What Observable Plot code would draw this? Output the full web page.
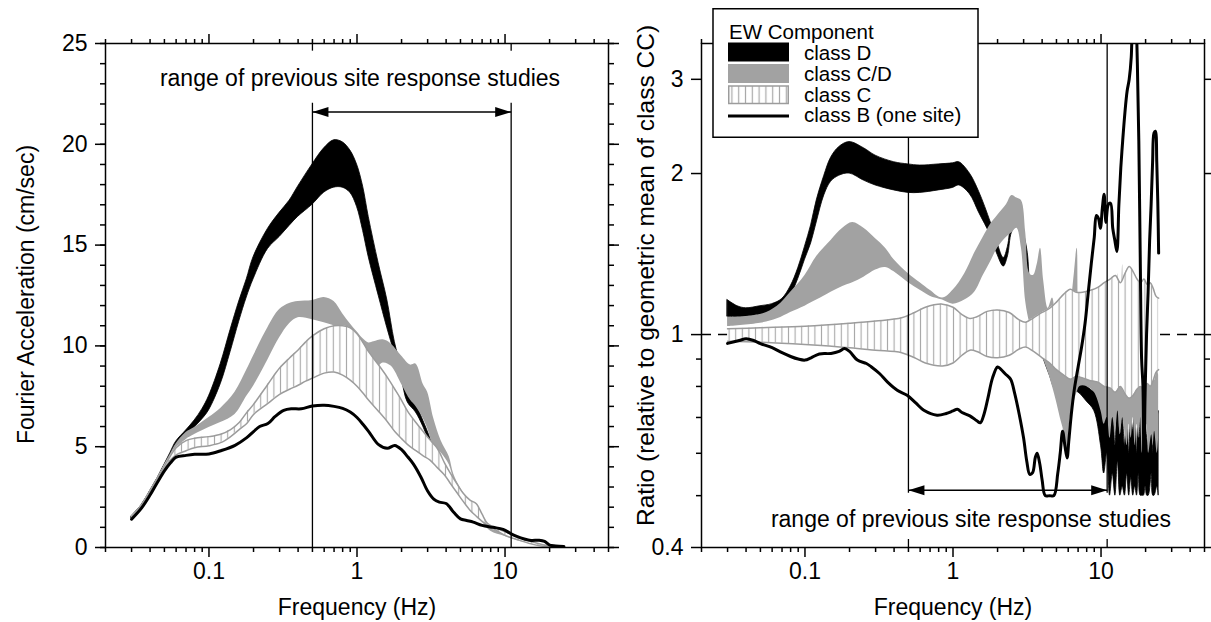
<!DOCTYPE html>
<html><head><meta charset="utf-8">
<script src="https://cdn.jsdelivr.net/npm/d3@7"></script>
<script src="https://cdn.jsdelivr.net/npm/@observablehq/plot@0.6"></script>
<style>
body{margin:0;background:#fff;}
#wrap{position:relative;width:1211px;height:622px;overflow:hidden;font-family:"Liberation Sans",Arial,Helvetica,sans-serif;}
#wrap > svg{position:absolute;top:0;}
</style></head><body><div id="wrap"></div>
<script>
// ---------- data ----------
const xMajor = [0.1, 1, 10];
const xMinor = [0.02,0.03,0.04,0.05,0.06,0.07,0.08,0.09,0.2,0.3,0.4,0.5,0.6,0.7,0.8,0.9,2,3,4,5,6,7,8,9,20,30,40,50];
const leftYMajor = [0,5,10,15,20,25];
const leftYMinor = d3.range(0, 26);
const rightYMajor = [0.4,1,2,3];
const rightYMinor = [0.5,0.6,0.7,0.8,0.9];
const studyRange = [0.5, 11];
const classNames = ["class D", "class C/D", "class C", "class B (one site)"];
const legendTitle = "EW Component";
const annotation = "range of previous site response studies";
const xTitle = "Frequency (Hz)";
const leftYTitle = "Fourier Acceleration (cm/sec)";
const rightYTitle = "Ratio (relative to geometric mean of class CC)";

// left panel: Fourier acceleration [freq, low, high]
const leftClassD = [[0.03,1.45,1.55],[0.035,2.0,2.1],[0.04,2.7,2.8],[0.045,3.35,3.45],[0.05,3.95,4.1],[0.055,4.5,4.7],[0.06,4.95,5.25],[0.07,5.5,5.8],[0.08,5.95,6.3],[0.09,6.35,6.85],[0.1,6.8,7.5],[0.12,8.1,9.1],[0.14,9.7,10.8],[0.16,11.2,12.2],[0.18,12.4,13.3],[0.2,13.3,14.4],[0.25,14.8,15.8],[0.3,15.4,16.6],[0.35,15.95,17.2],[0.4,16.4,17.9],[0.5,17.0,19.0],[0.6,17.6,19.8],[0.7,17.85,20.2],[0.8,17.85,20.1],[0.9,17.6,19.7],[1.0,16.9,19.0],[1.1,15.7,17.9],[1.2,14.4,16.4],[1.4,12.5,14.1],[1.6,10.9,12.3],[1.8,9.6,10.2],[2.0,8.4,8.9],[2.2,7.2,7.6],[2.5,6.7,7.1],[2.8,6.0,6.3],[3.1,5.2,5.5],[3.4,4.4,4.6]];
const leftClassCD = [[0.03,1.45,1.55],[0.035,2.0,2.1],[0.04,2.7,2.8],[0.045,3.35,3.45],[0.05,3.95,4.1],[0.055,4.5,4.65],[0.06,4.9,5.15],[0.07,5.35,5.7],[0.08,5.6,5.95],[0.1,5.95,6.45],[0.12,6.2,6.9],[0.15,6.6,7.7],[0.18,7.5,8.8],[0.2,8.0,9.5],[0.25,9.3,10.9],[0.3,10.4,11.8],[0.35,11.1,12.1],[0.4,11.4,12.2],[0.5,11.3,12.25],[0.6,11.15,12.4],[0.7,11.0,12.2],[0.8,10.8,11.6],[0.9,10.55,11.1],[1.0,10.3,10.7],[1.1,9.6,10.35],[1.2,8.8,10.15],[1.3,8.7,10.2],[1.5,9.15,10.3],[1.7,9.0,10.1],[2.0,8.1,9.5],[2.3,7.3,9.05],[2.5,7.0,9.1],[2.8,6.4,8.1],[3.0,5.9,7.7],[3.3,5.05,6.4],[3.7,4.7,5.3],[4.2,4.1,4.5],[4.5,3.4,3.65],[5.0,2.75,2.95],[5.5,2.3,2.5],[6.0,1.95,2.15],[6.4,1.8,2.1],[7.0,1.3,1.55],[8.0,0.8,0.95],[10,0.55,0.7],[12,0.35,0.45],[15,0.18,0.25],[18,0.08,0.12]];
const leftClassC = [[0.03,1.45,1.55],[0.035,2.0,2.1],[0.04,2.7,2.8],[0.045,3.3,3.45],[0.05,3.9,4.05],[0.055,4.35,4.55],[0.06,4.6,4.95],[0.07,4.8,5.3],[0.08,4.95,5.42],[0.1,5.05,5.5],[0.12,5.2,5.62],[0.14,5.5,5.85],[0.16,5.85,6.2],[0.18,6.15,6.7],[0.2,6.6,7.1],[0.25,7.15,8.1],[0.3,7.6,8.9],[0.35,7.85,9.4],[0.4,8.05,9.8],[0.45,8.25,10.2],[0.5,8.4,10.5],[0.6,8.65,10.85],[0.7,8.7,11.0],[0.8,8.55,11.0],[0.9,8.3,10.9],[1.0,8.0,10.6],[1.1,7.65,10.15],[1.2,7.3,9.7],[1.4,6.75,9.05],[1.6,6.25,8.45],[1.8,5.75,7.85],[2.0,5.4,7.3],[2.2,5.1,6.75],[2.5,4.8,6.2],[2.8,4.55,5.75],[3.1,4.35,5.35],[3.5,3.95,4.9],[3.9,3.6,4.2],[4.3,3.15,3.65],[4.7,2.75,3.2],[5.2,2.3,2.7],[5.8,1.85,2.35],[6.4,1.55,2.17],[7.0,1.3,1.65],[7.6,1.12,1.2],[8.5,0.9,1.0],[10,0.6,0.78],[12,0.4,0.55],[15,0.18,0.3],[18,0.06,0.14],[20,0.03,0.08]];
const leftClassB = [[0.03,1.4],[0.035,1.95],[0.04,2.6],[0.045,3.25],[0.05,3.8],[0.055,4.2],[0.06,4.48],[0.07,4.57],[0.08,4.62],[0.1,4.64],[0.12,4.8],[0.15,5.07],[0.18,5.45],[0.2,5.75],[0.22,6.0],[0.25,6.15],[0.28,6.5],[0.32,6.8],[0.36,6.88],[0.42,6.88],[0.5,7.02],[0.6,7.06],[0.7,7.0],[0.8,6.9],[0.9,6.72],[1.0,6.45],[1.1,6.1],[1.2,5.75],[1.4,5.1],[1.6,4.92],[1.8,5.06],[2.0,4.85],[2.2,4.5],[2.4,4.15],[2.7,3.5],[3.0,2.8],[3.3,2.4],[3.6,2.25],[4.0,2.18],[4.5,1.75],[5.0,1.42],[5.5,1.34],[6.1,1.26],[7.0,1.1],[8.3,1.0],[9.7,0.9],[11,0.68],[12,0.55],[13.5,0.42],[15,0.35],[17,0.36],[18.5,0.3],[20,0.12],[22,0.08],[25,0.05]];

// right panel: ratio [freq, low, high]
const rightClassD = [[0.03,1.08,1.16],[0.035,1.078,1.13],[0.04,1.08,1.12],[0.05,1.09,1.13],[0.06,1.1,1.14],[0.07,1.125,1.165],[0.08,1.18,1.23],[0.09,1.27,1.33],[0.1,1.38,1.46],[0.11,1.48,1.6],[0.12,1.62,1.78],[0.135,1.82,1.98],[0.15,1.93,2.14],[0.17,1.98,2.24],[0.2,2.0,2.29],[0.25,1.94,2.23],[0.3,1.9,2.16],[0.4,1.86,2.1],[0.5,1.84,2.08],[0.6,1.84,2.07],[0.8,1.86,2.08],[1.0,1.88,2.09],[1.1,1.9,2.1],[1.3,1.83,2.0],[1.5,1.69,1.85],[1.8,1.53,1.62],[2.0,1.41,1.48],[2.2,1.34,1.39],[2.35,1.4,1.46],[2.5,1.55,1.62],[2.7,1.6,1.68],[3.0,1.45,1.55],[3.2,1.3,1.42],[3.35,1.1,1.2],[3.6,1.04,1.1],[4.0,0.92,0.99],[4.5,0.84,0.9],[5.0,0.78,0.84],[5.5,0.77,0.82],[6.0,0.79,0.83],[7.0,0.78,0.82],[8.0,0.75,0.8],[9.0,0.72,0.78],[10.0,0.62,0.76],[10.5,0.55,0.7],[11,0.6,0.78],[11.5,0.5,0.7],[12,0.55,0.72],[12.5,0.5,0.62],[13,0.58,0.76],[13.5,0.5,0.65],[14,0.52,0.7],[14.5,0.5,0.62],[15,0.55,0.74],[15.5,0.5,0.6],[16,0.54,0.7],[16.5,0.5,0.66],[17,0.52,0.74],[17.5,0.5,0.6],[18,0.55,0.72],[18.5,0.5,0.64],[19,0.5,0.84],[19.5,0.5,0.8],[20,0.52,0.7],[20.5,0.5,0.64],[21,0.5,0.62],[22,0.55,0.74],[22.5,0.5,0.6],[23,0.5,0.68],[24,0.52,0.7],[24.5,0.5,0.72]];
const rightClassCD = [[0.03,1.035,1.076],[0.05,1.05,1.09],[0.065,1.07,1.13],[0.08,1.1,1.2],[0.1,1.13,1.29],[0.12,1.16,1.4],[0.15,1.2,1.5],[0.18,1.23,1.58],[0.21,1.25,1.62],[0.25,1.28,1.58],[0.3,1.32,1.51],[0.35,1.335,1.45],[0.4,1.31,1.38],[0.5,1.25,1.3],[0.6,1.21,1.25],[0.7,1.18,1.21],[0.85,1.16,1.17],[1.0,1.14,1.21],[1.2,1.16,1.3],[1.4,1.2,1.42],[1.6,1.29,1.52],[1.8,1.37,1.61],[2.0,1.45,1.67],[2.3,1.52,1.75],[2.5,1.55,1.82],[2.7,1.58,1.8],[2.9,1.45,1.78],[3.1,1.15,1.55],[3.3,1.05,1.3],[3.5,1.0,1.29],[3.7,0.98,1.35],[3.9,0.96,1.45],[4.1,0.9,1.26],[4.4,0.85,1.12],[4.7,0.8,1.17],[5.0,0.75,1.05],[5.3,0.7,1.0],[5.6,0.66,0.95],[5.9,0.6,1.0],[6.2,0.7,1.1],[6.6,0.75,1.3],[6.9,0.78,1.45],[7.2,0.8,1.0],[8,0.8,0.9],[9,0.78,0.9],[10,0.72,0.9],[10.5,0.68,0.88],[11,0.7,0.9],[11.5,0.64,0.86],[12,0.7,0.88],[12.5,0.66,0.85],[13,0.72,1.3],[13.5,0.65,0.9],[14,0.7,1.35],[14.5,0.66,0.9],[15,0.62,0.88],[15.5,0.68,0.86],[16,0.64,0.9],[16.5,0.7,0.88],[17,0.62,0.84],[17.5,0.68,0.86],[18,0.64,0.88],[18.5,0.7,0.85],[19,0.6,0.82],[19.5,0.66,0.88],[20,0.62,0.86],[20.5,0.68,0.9],[21,0.6,0.84],[22,0.65,0.88],[22.5,0.62,0.85],[23,0.66,0.82],[24,0.6,0.86],[24.5,0.64,0.84]];
const rightClassC = [[0.03,0.972,1.025],[0.05,0.968,1.03],[0.1,0.958,1.037],[0.2,0.945,1.05],[0.3,0.935,1.06],[0.45,0.925,1.075],[0.55,0.905,1.1],[0.65,0.885,1.125],[0.85,0.874,1.14],[1.0,0.885,1.125],[1.15,0.915,1.09],[1.3,0.935,1.072],[1.45,0.93,1.08],[1.7,0.91,1.105],[2.0,0.905,1.112],[2.4,0.915,1.1],[2.8,0.94,1.065],[3.1,0.948,1.055],[3.5,0.93,1.075],[4.0,0.905,1.1],[4.5,0.885,1.12],[5.0,0.86,1.15],[5.6,0.84,1.19],[6.2,0.825,1.215],[6.8,0.835,1.2],[7.5,0.83,1.2],[8.5,0.82,1.21],[9.5,0.815,1.225],[10.5,0.8,1.25],[11.5,0.795,1.27],[12.5,0.78,1.29],[13.5,0.8,1.25],[14.5,0.775,1.3],[15.5,0.76,1.34],[16.5,0.77,1.31],[17.5,0.79,1.27],[18.5,0.8,1.25],[19.5,0.79,1.27],[20.5,0.81,1.24],[21.5,0.8,1.25],[22.5,0.82,1.22],[23.5,0.85,1.18],[24.5,0.86,1.17]];
const rightClassB = [[0.03,0.963],[0.036,0.975],[0.04,0.982],[0.045,0.975],[0.05,0.962],[0.06,0.945],[0.07,0.925],[0.08,0.91],[0.09,0.9],[0.1,0.896],[0.11,0.905],[0.125,0.92],[0.15,0.922],[0.17,0.93],[0.185,0.942],[0.2,0.93],[0.226,0.896],[0.26,0.883],[0.28,0.871],[0.32,0.845],[0.36,0.816],[0.42,0.787],[0.49,0.77],[0.56,0.745],[0.635,0.722],[0.78,0.707],[0.9,0.712],[1.0,0.72],[1.07,0.725],[1.15,0.715],[1.3,0.705],[1.45,0.69],[1.53,0.684],[1.62,0.71],[1.72,0.76],[1.85,0.83],[2.0,0.87],[2.1,0.862],[2.25,0.845],[2.45,0.825],[2.6,0.78],[2.8,0.71],[3.0,0.64],[3.15,0.58],[3.3,0.548],[3.45,0.552],[3.6,0.59],[3.7,0.6],[3.85,0.575],[4.0,0.535],[4.2,0.5],[4.5,0.5],[4.8,0.5],[5.1,0.55],[5.3,0.6],[5.5,0.66],[5.7,0.62],[5.9,0.588],[6.05,0.63],[6.3,0.71],[6.6,0.79],[7.0,0.87],[7.4,0.95],[7.8,1.05],[8.2,1.2],[8.6,1.36],[9.0,1.52],[9.3,1.67],[9.6,1.65],[9.9,1.58],[10.2,1.72],[10.5,1.83],[10.8,1.62],[11.2,1.75],[11.6,1.76],[12.0,1.58],[12.4,1.5],[12.8,1.43],[13.2,1.75],[13.6,2.05],[14.0,2.3],[14.5,2.6],[15.0,2.85],[15.5,3.0],[16.0,3.3],[16.3,3.9],[16.7,4.2],[17.2,3.9],[17.6,3.2],[18.0,2.3],[18.4,1.4],[18.8,0.9],[19.2,0.8],[19.5,0.55],[19.8,0.75],[20.3,1.0],[20.8,1.2],[21.3,1.5],[21.8,1.75],[22.3,2.1],[22.8,2.38],[23.3,2.4],[23.8,2.1],[24.2,1.75],[24.5,1.42]];

// ---------- styling ----------
const FONT = '"Liberation Sans", Arial, Helvetica, sans-serif';
const GRAY = "#a2a2a2";
const HATCH_EDGE = "#9c9c9c";
const curve = "catmull-rom";
const arrowHead = {draw(ctx) { ctx.moveTo(0, 0); ctx.lineTo(-16, -5); ctx.lineTo(-16, 5); ctx.closePath(); }};
const fx = d => d[0], lo = d => d[1], hi = d => d[2];

function addHatch(svg, id) {
  const ns = "http://www.w3.org/2000/svg";
  const defs = document.createElementNS(ns, "defs");
  defs.innerHTML = `<pattern id="${id}" patternUnits="userSpaceOnUse" width="6.6" height="10"><rect width="6.6" height="10" fill="#fff"/><line x1="3.3" y1="0" x2="3.3" y2="10" stroke="#a9a9a9" stroke-width="1.1"/></pattern>`;
  svg.insertBefore(defs, svg.firstChild);
}

function axes(yMajor, yMinor, yFmt) {
  const common = {strokeWidth: 1.5, label: null};
  return [
    Plot.axisX(xMajor, {...common, anchor: "bottom", tickSize: 10, tickPadding: 5, fontSize: 23, tickFormat: d => `${d}`}),
    Plot.axisX(xMinor, {...common, anchor: "bottom", tickSize: 5, tickFormat: () => ""}),
    Plot.axisX(xMajor, {...common, anchor: "top", tickSize: 10, tickFormat: () => ""}),
    Plot.axisX(xMinor, {...common, anchor: "top", tickSize: 5, tickFormat: () => ""}),
    Plot.axisY(yMajor, {...common, anchor: "left", tickSize: 10, tickPadding: 8, fontSize: 23, tickFormat: yFmt}),
    Plot.axisY(yMinor, {...common, anchor: "left", tickSize: 5, tickFormat: () => ""}),
    Plot.axisY(yMajor, {...common, anchor: "right", tickSize: 10, tickFormat: () => ""}),
    Plot.axisY(yMinor, {...common, anchor: "right", tickSize: 5, tickFormat: () => ""}),
    Plot.frame({stroke: "black", strokeWidth: 1.5})
  ];
}

// ---------- left panel ----------
const left = Plot.plot({
  width: 640, height: 622,
  marginLeft: 105, marginRight: 32, marginTop: 43, marginBottom: 75,
  style: {fontFamily: FONT, background: "transparent", overflow: "visible", color: "black"},
  x: {type: "log", domain: [0.02, 50]},
  y: {domain: [0, 25]},
  marks: [
    Plot.areaY(leftClassD, {x: fx, y1: lo, y2: hi, fill: "black", stroke: "black", strokeWidth: 0.8, curve}),
    Plot.areaY(leftClassCD, {x: fx, y1: lo, y2: hi, fill: GRAY, curve}),
    Plot.areaY(leftClassC, {x: fx, y1: lo, y2: hi, fill: "url(#hatchL)", curve}),
    Plot.line(leftClassC, {x: fx, y: lo, stroke: HATCH_EDGE, strokeWidth: 1.5, curve}),
    Plot.line(leftClassC, {x: fx, y: hi, stroke: HATCH_EDGE, strokeWidth: 1.5, curve}),
    Plot.line(leftClassB, {x: fx, y: d => d[1], stroke: "black", strokeWidth: 3, curve}),
    Plot.ruleX(studyRange, {y1: 0, y2: 22.04, stroke: "black", strokeWidth: 1.3}),
    Plot.ruleX(studyRange, {y1: 24.62, y2: 25, stroke: "black", strokeWidth: 1.3}),
    Plot.link([studyRange], {x1: d => d[0], x2: d => d[1], y1: 21.6, y2: 21.6, stroke: "black", strokeWidth: 1.5}),
    Plot.dot(studyRange, {x: d => d, y: 21.6, symbol: arrowHead, rotate: (d, i) => i === 0 ? 180 : 0, fill: "black", stroke: "none", r: 5}),
    Plot.text([annotation], {text: d => d, frameAnchor: "top", lineAnchor: "middle", textAnchor: "middle", dx: 3, dy: 35, fontSize: 23}),
    Plot.text([xTitle], {text: d => d, frameAnchor: "bottom", lineAnchor: "middle", textAnchor: "middle", dy: 60, fontSize: 23}),
    Plot.text([leftYTitle], {text: d => d, frameAnchor: "left", lineAnchor: "middle", textAnchor: "middle", dx: -79, dy: -1, rotate: -90, fontSize: 23}),
    ...axes(leftYMajor, leftYMinor, d => `${d}`)
  ]
});
addHatch(left, "hatchL");
left.style.left = "0px";

// ---------- right panel ----------
const right = Plot.plot({
  width: 571, height: 622,
  marginLeft: 61, marginRight: 7, marginTop: 43, marginBottom: 75,
  style: {fontFamily: FONT, background: "transparent", overflow: "visible", color: "black"},
  x: {type: "log", domain: [0.02, 50]},
  y: {type: "log", domain: [0.4, 3.5]},
  marks: [
    Plot.ruleY([1], {stroke: "black", strokeWidth: 1.5, strokeDasharray: "10,7"}),
    Plot.areaY(rightClassD, {x: fx, y1: lo, y2: hi, fill: "black", stroke: "black", strokeWidth: 0.8, curve, clip: true}),
    Plot.areaY(rightClassCD, {x: fx, y1: lo, y2: hi, fill: GRAY, curve, clip: true}),
    Plot.areaY(rightClassC, {x: fx, y1: lo, y2: hi, fill: "url(#hatchR)", curve}),
    Plot.line(rightClassC, {x: fx, y: lo, stroke: HATCH_EDGE, strokeWidth: 1.5, curve}),
    Plot.line(rightClassC, {x: fx, y: hi, stroke: HATCH_EDGE, strokeWidth: 1.5, curve}),
    Plot.line(rightClassB, {x: fx, y: d => d[1], stroke: "black", strokeWidth: 3, curve, clip: true}),
    Plot.ruleX(studyRange, {y1: 0.505, y2: 3.5, stroke: "black", strokeWidth: 1.3}),
    Plot.ruleX(studyRange, {y1: 0.4, y2: 0.414, stroke: "black", strokeWidth: 1.3}),
    Plot.link([studyRange], {x1: d => d[0], x2: d => d[1], y1: 0.512, y2: 0.512, stroke: "black", strokeWidth: 1.5}),
    Plot.dot(studyRange, {x: d => d, y: 0.512, symbol: arrowHead, rotate: (d, i) => i === 0 ? 180 : 0, fill: "black", stroke: "none", r: 5}),
    Plot.text([annotation], {text: d => d, frameAnchor: "bottom", lineAnchor: "middle", textAnchor: "middle", dx: 18, dy: -28, fontSize: 23}),
    Plot.text([xTitle], {text: d => d, frameAnchor: "bottom", lineAnchor: "middle", textAnchor: "middle", dy: 60, fontSize: 23}),
    Plot.text([rightYTitle], {text: d => d, frameAnchor: "left", lineAnchor: "middle", textAnchor: "middle", dx: -55, dy: -20, rotate: -90, fontSize: 24.5}),
    ...axes(rightYMajor, rightYMinor, d => `${d}`)
  ]
});
addHatch(right, "hatchR");
right.style.left = "640px";

const wrap = document.getElementById("wrap");
wrap.appendChild(left);
wrap.appendChild(right);

// ---------- legend (inside right panel, drawn over it) ----------
const ns = "http://www.w3.org/2000/svg";
const leg = document.createElementNS(ns, "svg");
leg.setAttribute("width", 268); leg.setAttribute("height", 132);
leg.style.left = "712px"; leg.style.top = "8px"; leg.style.position = "absolute";
const swatches = [
  `<rect x="16" y="34.5" width="61" height="19" fill="black"/>`,
  `<rect x="16" y="56" width="61" height="19" fill="${GRAY}"/>`,
  `<rect x="16.75" y="78" width="59.5" height="17.5" fill="url(#hatchLeg)" stroke="${HATCH_EDGE}" stroke-width="1.5"/>`,
  `<line x1="16" x2="77" y1="108" y2="108" stroke="black" stroke-width="3"/>`
];
const baselines = [52, 73, 93.5, 113.5];
leg.innerHTML = `<defs><pattern id="hatchLeg" patternUnits="userSpaceOnUse" width="6.8" height="10" x="16.5"><rect width="6.8" height="10" fill="#fff"/><line x1="3.4" y1="0" x2="3.4" y2="10" stroke="#a9a9a9" stroke-width="1.2"/></pattern></defs>
<rect x="1" y="0.75" width="265" height="128.5" fill="white" stroke="black" stroke-width="1.5"/>
<text x="17" y="31.3" font-size="20.5" font-family='${FONT}'>${legendTitle}</text>
${swatches.join("")}
${classNames.map((c, i) => `<text x="92" y="${baselines[i]}" font-size="20.5" font-family='${FONT}'>${c}</text>`).join("")}`;
wrap.appendChild(leg);
</script></body></html>
